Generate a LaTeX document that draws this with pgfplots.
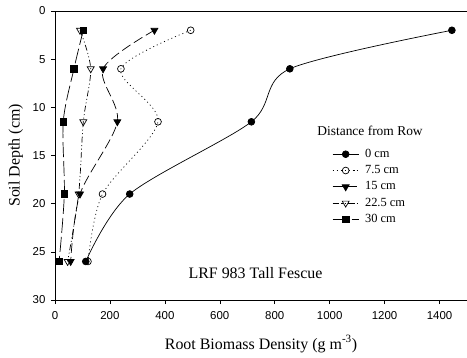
\documentclass[border=0pt]{standalone}
\usepackage{fontspec}
\setmainfont{Liberation Serif}
\newfontfamily\arial{Liberation Sans}
\usepackage{pgfplots}
\pgfplotsset{compat=1.18}
\begin{document}
\begin{tikzpicture}[x=1bp,y=1bp]
\begin{axis}[
  name=ax,
  scale only axis,
  width=412bp, height=289bp,
  xmin=0, xmax=1500, ymin=0, ymax=30,
  y dir=reverse,
  xtick={0,200,...,1400},
  ytick={0,5,...,30},
  tick align=outside,
  tick pos=left,
  major tick length=4bp,
  major tick style={black, line width=0.6bp},
  axis line style={draw=none},
  /pgf/number format/assume math mode=true,
  /pgf/number format/set thousands separator={},
  ticklabel style={font=\arial\fontsize{11.5}{13}\selectfont},
  xticklabel style={yshift=-4bp},
  yticklabel style={xshift=-2bp},
  xlabel={Root Biomass Density (g m\textsuperscript{-3})},
  ylabel={Soil Depth (cm)},
  xlabel style={yshift=-9bp},
  ylabel style={yshift=3bp},
  label style={font=\fontsize{16}{19}\selectfont},
  legend style={at={(axis cs:1009,14.0)}, anchor=north west, draw=none, fill=none,
    inner sep=0pt, font=\fontsize{12.5}{14}\selectfont,
    nodes={inner xsep=2bp, inner ysep=2.15bp, text height=9bp, text depth=3bp},
    column sep=4bp},
  legend cell align=left,
  legend image code/.code={\draw[mark repeat=2,mark phase=2,#1] plot coordinates {(0bp,0bp) (13bp,0bp) (26bp,0bp)};},
  every axis plot/.append style={black, line width=0.7bp, smooth},
]
\addplot[solid, mark=*, mark size=3.4bp, mark options={solid}] coordinates {(1445,2) (855,6) (715,11.5) (272,19) (112,26)};
\addlegendentry{0 cm}
\addplot[dash pattern=on 1bp off 3bp, mark=o, mark size=3.4bp, mark options={solid, fill=white}] coordinates {(494,2) (240,6) (375,11.5) (173,19) (120,26)};
\addlegendentry{7.5 cm}
\addplot[dash pattern=on 10bp off 4bp, mark=triangle*, mark size=4bp, mark options={solid, rotate=180}] coordinates {(362,2) (175,6) (227,11.5) (91,19) (57,26)};
\addlegendentry{15 cm}
\addplot[dash pattern=on 6bp off 2.5bp on 1bp off 2.5bp on 1bp off 2.5bp, mark=triangle, mark size=4bp, mark options={solid, rotate=180, fill=white}] coordinates {(91,2) (130,6) (103,11.5) (86,19) (46,26)};
\addlegendentry{22.5 cm}
\addplot[dash pattern=on 15bp off 4bp, mark=square*, mark size=3.3bp, mark options={solid}] coordinates {(103,2) (69,6) (30,11.5) (34,19) (15,26)};
\addlegendentry{30 cm}
\draw[black, line width=0.8bp] (axis cs:0,0) -- (axis cs:1500,0);
\draw[black, line width=0.8bp] (axis cs:0,0) -- (axis cs:0,30);
\draw[black, line width=0.8bp] (axis cs:0,30) -- (axis cs:1500,30);
\node[font=\fontsize{13.5}{16}\selectfont, anchor=center] at (axis cs:1147,12.43) {Distance from Row};
\node[font=\fontsize{16}{19}\selectfont, anchor=center] at (axis cs:730,27.2) {LRF 983 Tall Fescue};
\end{axis}
\pgfresetboundingbox
\path ([xshift=-55bp,yshift=-58bp]ax.south west) rectangle ([yshift=11bp]ax.north east);
\end{tikzpicture}
\end{document}
